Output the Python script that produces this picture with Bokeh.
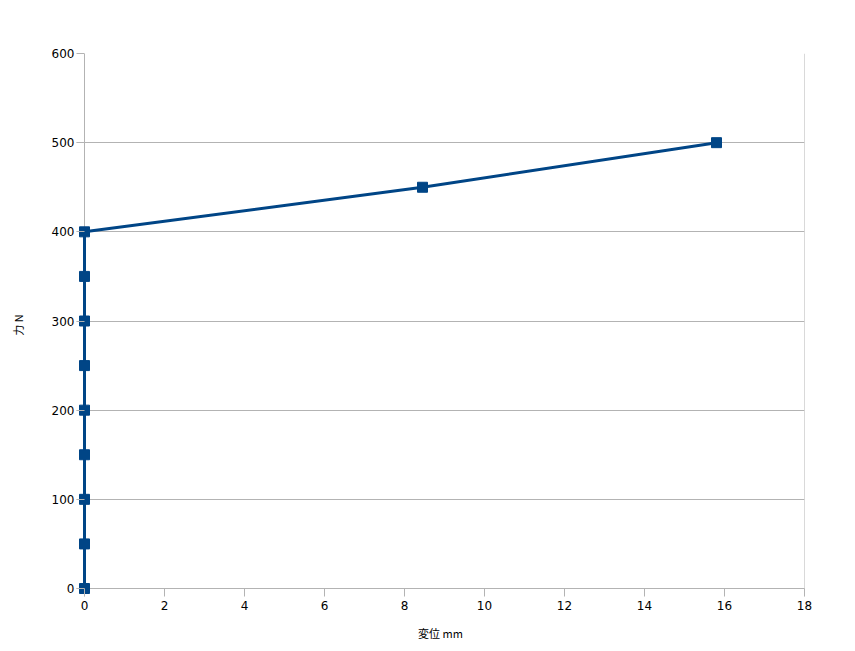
from bokeh.plotting import figure
from bokeh.embed import file_html
from bokeh.resources import INLINE
from bokeh.models import FixedTicker, ColumnDataSource, Span, Range1d

displacement_mm = [0, 0, 0, 0, 0, 0, 0, 0, 0, 8.45, 15.8]
force_n = [0, 50, 100, 150, 200, 250, 300, 350, 400, 450, 500]
x_ticks = [0, 2, 4, 6, 8, 10, 12, 14, 16, 18]
y_ticks = [0, 100, 200, 300, 400, 500, 600]
x_min, x_max = 0, 18
y_min, y_max = 0, 600

GRAY = "#b3b3b3"
src = ColumnDataSource(dict(x=displacement_mm, y=force_n))

# small padding below/left of zero so the markers sitting on the axes are not clipped
p = figure(width=847, height=643, output_backend="svg", toolbar_location=None,
           x_range=Range1d(x_min - 0.2, x_max), y_range=Range1d(y_min - 8.97, y_max),
           min_border_left=76, min_border_right=43, min_border_top=53, min_border_bottom=45)
p.background_fill_color = "white"
p.border_fill_color = "white"
p.outline_line_color = None

p.ygrid.grid_line_color = GRAY
p.ygrid.ticker = FixedTicker(ticks=y_ticks)
p.xgrid.grid_line_color = None

# axis frame lines drawn at the data origin / right edge, beneath the data
for loc, dim in ((x_min, "height"), (y_min, "width"), (x_max, "height")):
    p.add_layout(Span(location=loc, dimension=dim, line_color=GRAY, line_width=1, level="underlay"))

p.line("x", "y", source=src, line_color="#004586", line_width=3)
p.scatter("x", "y", source=src, marker="square", size=10, fill_color="#004586", line_color="#004586")

for ax in (p.xaxis[0], p.yaxis[0]):
    ax.axis_line_color = None
    ax.major_tick_line_color = GRAY
    ax.major_tick_out = 0
    ax.major_tick_in = 8
    ax.minor_tick_line_color = None
    ax.major_label_text_font = "DejaVu Sans"
    ax.major_label_text_font_size = "12px"
    ax.major_label_text_color = "black"
    ax.axis_label_text_font = "Noto Sans CJK JP"
    ax.axis_label_text_font_size = "11px"
    ax.axis_label_text_font_style = "normal"
    ax.axis_label_text_color = "black"

p.xaxis.ticker = FixedTicker(ticks=x_ticks)
p.yaxis.ticker = FixedTicker(ticks=y_ticks)
p.xaxis.axis_label = "変位 mm"
p.yaxis.axis_label = "力 N"
p.xaxis.major_label_standoff = 4
p.yaxis.major_label_standoff = 2
p.xaxis.axis_label_standoff = 12
p.yaxis.axis_label_standoff = 23

open("out.html", "w").write(file_html(p, INLINE))
